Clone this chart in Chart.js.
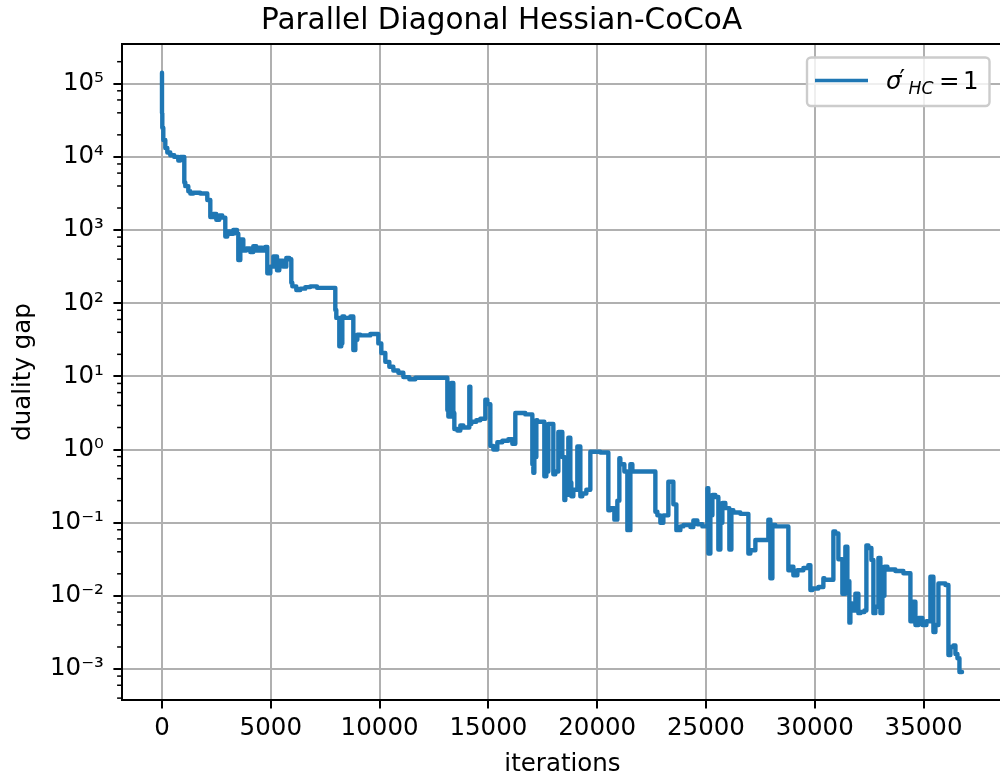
<!DOCTYPE html>
<html>
<head>
<meta charset="utf-8">
<script src="https://cdn.jsdelivr.net/npm/chart.js@4/dist/chart.umd.min.js"></script>
<style>
html, body { margin: 0; padding: 0; background: #fff; overflow: hidden; }
#wrap { width: 1003px; height: 780px; position: relative; }
</style>
</head>
<body>
<div id="wrap"><canvas id="c"></canvas></div>
<script>
const iterations = [0,14,60,152,244,381,565,749,841,933,1025,1071,1209,1301,1439,1760,2082,2220,2358,2496,2634,2771,2909,3001,3139,3277,3447,3507,3599,3737,3874,4058,4196,4334,4472,4610,4748,4840,4978,5116,5285,5391,5575,5713,5851,5943,5989,6172,6356,6586,6816,7124,7505,7965,8011,8149,8241,8287,8379,8655,8793,8885,8977,9115,9574,9942,10080,10264,10448,10632,10862,11092,11368,11643,12333,13114,13160,13297,13389,13435,13573,13711,13849,14124,14170,14216,14446,14630,14860,14952,15090,15227,15411,15641,15917,16100,16238,16284,16698,17020,17066,17112,17204,17250,17571,17663,17755,17985,18077,18215,18398,18490,18536,18674,18766,18812,18904,19088,19226,19318,19502,19686,19777,20145,20513,20605,20789,20927,21019,21065,21249,21387,21525,21617,21801,22215,22674,22766,22904,23042,23271,23501,23639,23823,23961,24283,24420,24604,24834,25064,25110,25202,25294,25431,25569,25661,25753,25891,26075,26167,26259,26580,26948,27040,27270,27499,27867,27959,28051,28189,28419,28786,28878,29016,29200,29476,29706,29798,29890,30165,30395,30441,30855,30947,31085,31268,31406,31498,31590,31636,31728,31866,32004,32096,32280,32372,32464,32602,32694,32786,32924,33016,33108,33200,33338,33705,34073,34395,34487,34625,34763,34946,35130,35314,35452,35544,35682,35774,36004,36142,36234,36372,36464,36556,36648,36768];
const dualityGap = [1.41e5,3.98e4,2.51e4,1.70e4,1.32e4,1.15e4,1.05e4,1.0e4,8.9e3,1.0e4,1.0e4,4.47e3,3.98e3,3.39e3,3.16e3,3.24e3,3.16e3,2.57e3,1.51e3,1.66e3,1.38e3,1.58e3,1.48e3,813,955,891,1000,891,389,741,525,562,501,603,525,575,525,589,257,316,437,282,380,316,417,398,191,170,151,158,166,170,162,162,81,63,25.7,28.2,66,63,66,22.9,31.6,37.2,36.3,38.0,28.2,20.9,15.8,13.5,12.0,11.2,9.77,9.12,9.55,9.55,3.47,2.82,8.13,3.16,1.91,1.82,2.14,2.0,7.24,2.24,2.4,2.51,2.63,4.79,4.17,1.12,1.0,1.26,1.32,1.38,1.2,3.16,3.16,3.02,0.63,0.48,0.79,2.51,2.4,0.43,0.5,2.24,0.46,0.5,1.74,0.79,0.204,0.24,1.45,0.355,0.229,0.282,1.1,0.229,0.251,0.282,0.933,0.933,0.912,0.148,0.158,0.11,0.2,0.76,0.63,0.5,0.079,0.63,0.5,0.5,0.5,0.141,0.126,0.1,0.126,0.363,0.178,0.079,0.089,0.093,0.087,0.107,0.095,0.089,0.295,0.038,0.126,0.24,0.224,0.043,0.1,0.186,0.158,0.043,0.148,0.138,0.132,0.038,0.042,0.058,0.058,0.11,0.0174,0.093,0.089,0.089,0.0224,0.0251,0.0191,0.0224,0.024,0.0263,0.012,0.0126,0.0132,0.0174,0.0166,0.076,0.071,0.0316,0.0107,0.047,0.0158,0.0043,0.0079,0.0063,0.0107,0.0058,0.006,0.0063,0.049,0.045,0.031,0.0058,0.0071,0.033,0.0058,0.01,0.0251,0.0229,0.0219,0.0204,0.0045,0.0083,0.004,0.005,0.004,0.0045,0.0182,0.0032,0.004,0.0148,0.0148,0.0141,0.00155,0.002,0.0021,0.0016,0.0014,0.00091];
const xTicks = [0,5000,10000,15000,20000,25000,30000,35000];
const yTickExponents = [-3,-2,-1,0,1,2,3,4,5];
const yMinorSubs = [2,4,6,8];
const seriesLabel = "σ′HC = 1";

const SUP = {'-':'⁻','0':'⁰','1':'¹','2':'²','3':'³','4':'⁴','5':'⁵','6':'⁶','7':'⁷','8':'⁸','9':'⁹'};
function supLabel(e){ return '10' + String(e).split('').map(c=>SUP[c]).join(''); }

const FONT = "'DejaVu Sans', sans-serif";
const BLUE = '#1f77b4';

const framePlugin = {
  id: 'frame',
  afterDraw(chart) {
    const ctx = chart.ctx, a = chart.chartArea;
    const y = chart.scales.y;
    ctx.save();
    ctx.strokeStyle = '#000';
    ctx.lineWidth = 1.5;
    for (let e = -5; e <= 6; e++) {
      for (const m of yMinorSubs) {
        const v = m * Math.pow(10, e);
        if (v < y.min || v > y.max) continue;
        const p = y.getPixelForValue(v);
        ctx.beginPath();
        ctx.moveTo(a.left - 4.9, p);
        ctx.lineTo(a.left, p);
        ctx.stroke();
      }
    }
    ctx.lineWidth = 2;
    ctx.beginPath();
    ctx.moveTo(a.left - 1, a.top);
    ctx.lineTo(a.right, a.top);
    ctx.lineTo(a.right, a.bottom);
    ctx.stroke();
    const bx = 807, by = 57.5, bw = 182.5, bh = 48.5, r = 4;
    ctx.beginPath();
    ctx.moveTo(bx + r, by);
    ctx.arcTo(bx + bw, by, bx + bw, by + bh, r);
    ctx.arcTo(bx + bw, by + bh, bx, by + bh, r);
    ctx.arcTo(bx, by + bh, bx, by, r);
    ctx.arcTo(bx, by, bx + bw, by, r);
    ctx.closePath();
    ctx.fillStyle = 'rgba(255,255,255,0.8)';
    ctx.fill();
    ctx.strokeStyle = '#cccccc';
    ctx.lineWidth = 2.4;
    ctx.stroke();
    ctx.strokeStyle = BLUE;
    ctx.lineWidth = 3.7;
    ctx.beginPath();
    ctx.moveTo(815, 80.5);
    ctx.lineTo(868, 80.5);
    ctx.stroke();
    ctx.fillStyle = '#000';
    ctx.textBaseline = 'alphabetic';
    ctx.textAlign = 'left';
    ctx.font = "italic 24.5px " + FONT;
    ctx.fillText('σ', 886, 88.5);
    ctx.font = "24.5px " + FONT;
    ctx.fillText('′', 899.5, 86.5);
    ctx.font = "italic 17.2px " + FONT;
    ctx.fillText('HC', 908.5, 93.5);
    ctx.font = "24.5px " + FONT;
    ctx.fillText('=', 939, 88.5);
    ctx.fillText('1', 963, 88.5);
    ctx.restore();
  }
};

new Chart(document.getElementById('c'), {
  type: 'line',
  data: {
    datasets: [{
      label: seriesLabel,
      data: iterations.map((x, i) => ({x: x, y: dualityGap[i]})),
      borderColor: BLUE,
      backgroundColor: BLUE,
      borderWidth: 4.4,
      pointRadius: 0,
      tension: 0,
      stepped: 'after',
      fill: false,
      borderJoinStyle: 'round',
      borderCapStyle: 'round'
    }]
  },
  options: {
    responsive: true,
    maintainAspectRatio: false,
    animation: false,
    layout: { padding: { left: 0, right: 0, top: 0, bottom: 0 } },
    plugins: {
      legend: { display: false },
      tooltip: { enabled: false },
      title: {
        display: true,
        text: 'Parallel Diagonal Hessian-CoCoA',
        color: '#000',
        font: { family: FONT, size: 29.5, weight: 'normal' },
        padding: { top: 4, bottom: 4.6 }
      }
    },
    scales: {
      x: {
        type: 'linear',
        min: -1838,
        max: 38650,
        afterBuildTicks: (s) => { s.ticks = xTicks.map(v => ({value: v})); },
        afterFit: (s) => { s.height = 80; },
        ticks: {
          color: '#000',
          font: { family: FONT, size: 24.5 },
          padding: 5.7,
          maxRotation: 0,
          autoSkip: false,
          callback: (v) => String(v)
        },
        grid: {
          color: '#b0b0b0',
          lineWidth: 2,
          drawTicks: true,
          tickLength: 8.6,
          tickColor: '#000',
          tickWidth: 2
        },
        border: { display: true, color: '#000', width: 2 },
        title: {
          display: true,
          text: 'iterations',
          color: '#000',
          font: { family: FONT, size: 24.5 },
          padding: { top: 0, bottom: 0.5 }
        }
      },
      y: {
        type: 'logarithmic',
        min: 3.77e-4,
        max: 3.49e5,
        afterBuildTicks: (s) => { s.ticks = yTickExponents.map(e => ({value: Math.pow(10, e), major: true})); },
        afterFit: (s) => { s.width = 122; },
        ticks: {
          color: '#000',
          font: { family: FONT, size: 24.5 },
          padding: 9.5,
          autoSkip: false,
          callback: (v) => supLabel(Math.round(Math.log10(v)))
        },
        grid: {
          color: '#b0b0b0',
          lineWidth: 2,
          drawTicks: true,
          tickLength: 8.6,
          tickColor: '#000',
          tickWidth: 2
        },
        border: { display: true, color: '#000', width: 2 },
        title: {
          display: true,
          text: 'duality gap',
          color: '#000',
          font: { family: FONT, size: 24.5 },
          padding: { top: 9.3, bottom: 0 }
        }
      }
    }
  },
  plugins: [framePlugin]
});
</script>
</body>
</html>
